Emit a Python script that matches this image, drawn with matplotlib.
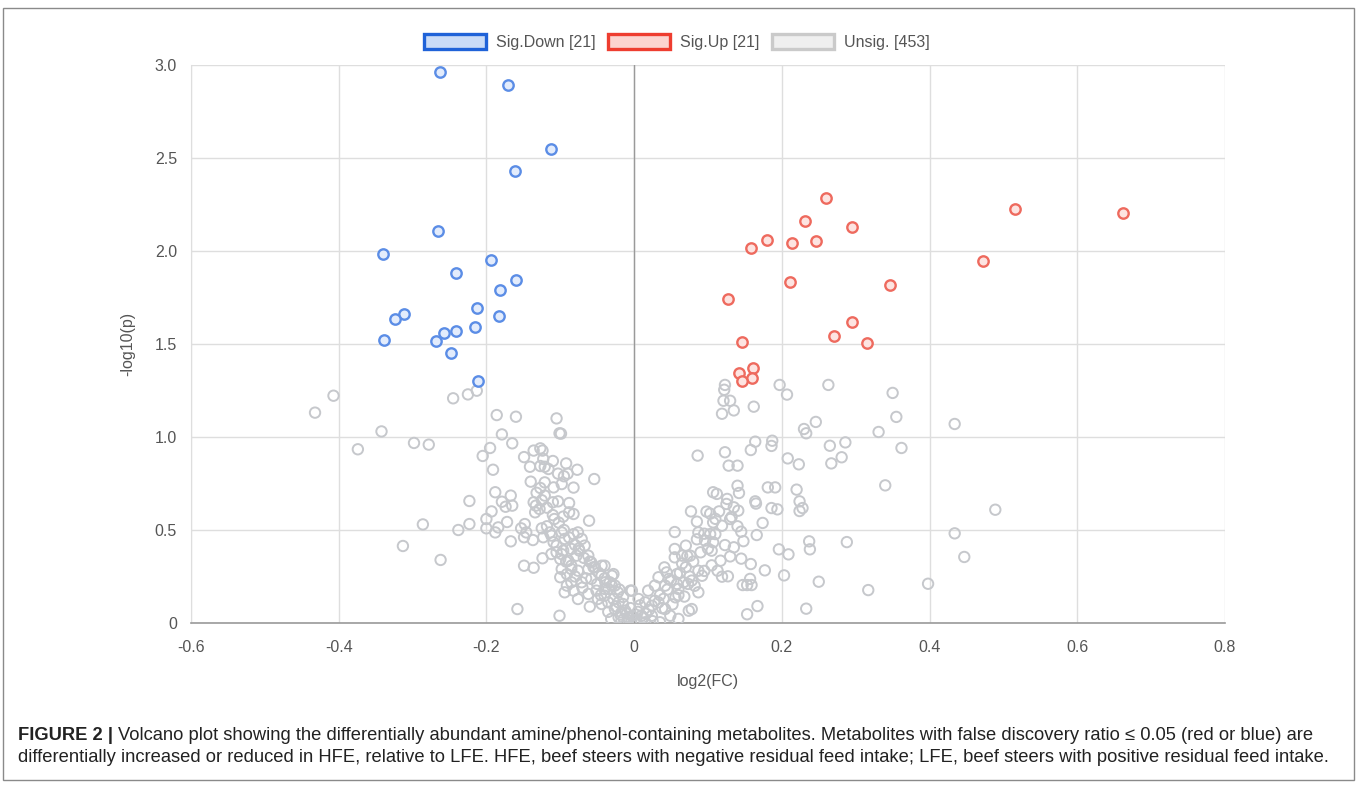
import matplotlib.pyplot as plt
from matplotlib.patches import Patch, Rectangle
import numpy as np

plt.rcParams['font.family'] = ['Liberation Sans', 'DejaVu Sans']

# Sig.Down points (log2 FC, -log10 p)
down_x = [-0.263, -0.171, -0.112, -0.161, -0.265, -0.340, -0.194, -0.241, -0.160, -0.181,
          -0.213, -0.311, -0.324, -0.183, -0.215, -0.241, -0.257, -0.338, -0.268, -0.248,
          -0.211]
down_y = [2.962, 2.892, 2.548, 2.430, 2.108, 1.984, 1.952, 1.882, 1.844, 1.790,
          1.694, 1.661, 1.634, 1.651, 1.591, 1.570, 1.559, 1.522, 1.516, 1.452,
          1.301]

# Sig.Up points
up_x = [0.260, 0.2315, 0.295, 0.158, 0.180, 0.214, 0.246, 0.516, 0.662, 0.4725,
        0.211, 0.347, 0.127, 0.295, 0.271, 0.315, 0.146, 0.161, 0.142, 0.160,
        0.146]
up_y = [2.285, 2.161, 2.129, 2.016, 2.059, 2.043, 2.054, 2.226, 2.204, 1.946,
        1.833, 1.817, 1.742, 1.618, 1.543, 1.505, 1.511, 1.371, 1.344, 1.317,
        1.301]

# Unsig. points
unsig = [
    (-0.432, 1.131), (-0.407, 1.222), (-0.342, 1.030), (-0.374, 0.934), (-0.298, 0.968),
    (-0.278, 0.959), (-0.245, 1.208), (-0.225, 1.229), (-0.213, 1.249), (-0.313, 0.414),
    (-0.286, 0.530), (-0.262, 0.339), (-0.238, 0.500), (-0.223, 0.656), (-0.223, 0.532),
    (-0.186, 1.118), (-0.160, 1.109), (-0.179, 1.014), (-0.165, 0.966), (-0.195, 0.941),
    (-0.205, 0.898), (-0.191, 0.824), (-0.105, 1.100), (-0.101, 1.020), (-0.099, 1.018),
    (-0.149, 0.892), (-0.141, 0.840), (-0.136, 0.927), (-0.127, 0.939), (-0.124, 0.927),
    (-0.123, 0.882), (-0.127, 0.844), (-0.121, 0.840), (-0.110, 0.871), (-0.116, 0.828),
    (-0.092, 0.858), (-0.077, 0.824), (-0.103, 0.803), (-0.095, 0.789), (-0.090, 0.803),
    (-0.054, 0.774), (-0.127, 0.726), (-0.121, 0.756), (-0.109, 0.729), (-0.098, 0.747),
    (-0.082, 0.728), (-0.188, 0.703), (-0.167, 0.685), (-0.179, 0.652), (-0.174, 0.625),
    (-0.165, 0.631), (-0.193, 0.600), (-0.200, 0.559), (-0.200, 0.509), (-0.184, 0.514),
    (-0.188, 0.487), (-0.172, 0.543), (-0.167, 0.439), (-0.136, 0.649), (-0.133, 0.631),
    (-0.128, 0.613), (-0.134, 0.595), (-0.121, 0.685), (-0.110, 0.649), (-0.103, 0.654),
    (-0.088, 0.645), (-0.088, 0.595), (-0.082, 0.586), (-0.096, 0.572), (-0.108, 0.559),
    (-0.061, 0.550), (-0.148, 0.532), (-0.153, 0.509), (-0.146, 0.487), (-0.137, 0.446),
    (-0.149, 0.461), (-0.125, 0.509), (-0.123, 0.461), (-0.114, 0.487), (-0.109, 0.434),
    (-0.098, 0.487), (-0.094, 0.452), (-0.082, 0.478), (-0.076, 0.487), (-0.071, 0.452),
    (-0.067, 0.416), (-0.105, 0.416), (-0.096, 0.389), (-0.085, 0.398), (-0.074, 0.389),
    (-0.124, 0.348), (-0.112, 0.371), (-0.100, 0.344), (-0.089, 0.335), (-0.078, 0.362),
    (-0.062, 0.362), (-0.058, 0.326), (-0.149, 0.308), (-0.136, 0.297), (-0.098, 0.290),
    (-0.091, 0.263), (-0.085, 0.308), (-0.076, 0.281), (-0.062, 0.290), (-0.053, 0.299),
    (-0.040, 0.308), (-0.100, 0.246), (-0.091, 0.201), (-0.085, 0.219), (-0.071, 0.219),
    (-0.058, 0.237), (-0.044, 0.254), (-0.028, 0.263), (-0.094, 0.165), (-0.082, 0.174),
    (-0.076, 0.129), (-0.062, 0.156), (-0.051, 0.174), (-0.040, 0.183), (-0.033, 0.219),
    (-0.026, 0.201), (-0.022, 0.165), (-0.060, 0.088), (-0.158, 0.075), (-0.101, 0.039),
    (-0.049, 0.129), (-0.035, 0.111), (-0.026, 0.075), (-0.017, 0.057), (-0.031, 0.022),
    (-0.008, 0.030), (-0.004, 0.004), (-0.015, 0.102), (-0.005, 0.174), (-0.040, 0.147),
    (-0.044, 0.102),
    (0.123, 1.280), (0.122, 1.254), (0.121, 1.195), (0.130, 1.195), (0.119, 1.125),
    (0.135, 1.143), (0.197, 1.280), (0.207, 1.228), (0.162, 1.163), (0.263, 1.280),
    (0.350, 1.237), (0.355, 1.108), (0.434, 1.070), (0.246, 1.081), (0.230, 1.043),
    (0.233, 1.020), (0.331, 1.027), (0.187, 0.980), (0.186, 0.952), (0.164, 0.975),
    (0.158, 0.930), (0.265, 0.953), (0.286, 0.971), (0.362, 0.941), (0.086, 0.900),
    (0.123, 0.918), (0.128, 0.846), (0.140, 0.846), (0.208, 0.885), (0.223, 0.853),
    (0.267, 0.858), (0.281, 0.891), (0.340, 0.740), (0.140, 0.738), (0.142, 0.699),
    (0.181, 0.729), (0.191, 0.729), (0.220, 0.717), (0.107, 0.703), (0.112, 0.694),
    (0.126, 0.667), (0.164, 0.654), (0.165, 0.642), (0.224, 0.654), (0.228, 0.618),
    (0.224, 0.602), (0.186, 0.618), (0.194, 0.611), (0.135, 0.622), (0.141, 0.604),
    (0.130, 0.559), (0.098, 0.599), (0.103, 0.588), (0.077, 0.600), (0.085, 0.545),
    (0.489, 0.609), (0.107, 0.541), (0.119, 0.523), (0.174, 0.538), (0.145, 0.491),
    (0.166, 0.473), (0.055, 0.489), (0.087, 0.487), (0.103, 0.478), (0.110, 0.478),
    (0.096, 0.443), (0.107, 0.434), (0.123, 0.419), (0.135, 0.407), (0.237, 0.439),
    (0.238, 0.396), (0.288, 0.435), (0.196, 0.396), (0.209, 0.369), (0.434, 0.482),
    (0.447, 0.355), (0.055, 0.398), (0.070, 0.416), (0.076, 0.362), (0.055, 0.353),
    (0.065, 0.362), (0.105, 0.389), (0.117, 0.335), (0.130, 0.358), (0.145, 0.346),
    (0.158, 0.317), (0.113, 0.281), (0.119, 0.249), (0.127, 0.251), (0.177, 0.283),
    (0.203, 0.256), (0.041, 0.299), (0.044, 0.272), (0.033, 0.246), (0.047, 0.237),
    (0.058, 0.263), (0.067, 0.219), (0.078, 0.228), (0.087, 0.281), (0.092, 0.254),
    (0.087, 0.165), (0.073, 0.210), (0.060, 0.183), (0.042, 0.201), (0.028, 0.201),
    (0.019, 0.174), (0.056, 0.138), (0.068, 0.142), (0.250, 0.222), (0.317, 0.177),
    (0.398, 0.211), (0.147, 0.204), (0.153, 0.204), (0.159, 0.204), (0.157, 0.237),
    (0.233, 0.077), (0.167, 0.091), (0.153, 0.047), (0.074, 0.066), (0.078, 0.075),
    (-0.003, 0.174), (0.006, 0.129), (0.015, 0.111), (0.024, 0.093), (0.033, 0.111),
    (0.042, 0.075), (0.049, 0.039), (0.060, 0.022), (0.035, 0.004), (0.010, 0.039),
    (-0.003, 0.039), (-0.014, 0.022), (-0.012, 0.066), (-0.021, 0.111), (-0.028, 0.129),
    (-0.039, 0.219), (-0.044, 0.308), (-0.030, 0.254), (-0.035, 0.183), (0.024, 0.039),
    (0.001, 0.013), (0.015, 0.004), (-0.021, 0.030),
    (-0.010, 0.050), (-0.005, 0.080), (0.005, 0.060), (0.012, 0.030), (0.020, 0.070),
    (0.028, 0.120), (0.035, 0.150), (0.045, 0.180), (0.050, 0.230), (0.062, 0.270),
    (0.070, 0.300), (0.080, 0.330), (0.090, 0.380), (0.100, 0.400), (-0.015, 0.140),
    (-0.020, 0.180), (-0.030, 0.200), (-0.040, 0.240), (-0.048, 0.270), (-0.055, 0.300),
    (-0.060, 0.330), (-0.068, 0.350), (-0.075, 0.400), (-0.080, 0.420), (-0.088, 0.460),
    (-0.095, 0.500), (-0.102, 0.540), (-0.110, 0.580), (-0.118, 0.620), (-0.125, 0.660),
    (-0.132, 0.700), (-0.140, 0.760), (0.003, 0.020), (0.008, 0.095), (-0.008, 0.015),
    (-0.018, 0.045), (0.016, 0.050), (0.025, 0.010), (0.038, 0.080), (0.052, 0.100),
    (0.040, 0.130), (-0.025, 0.090), (-0.035, 0.060), (-0.045, 0.150), (-0.050, 0.210),
    (-0.065, 0.240), (-0.070, 0.190), (-0.080, 0.250), (-0.085, 0.290), (-0.092, 0.330),
    (-0.098, 0.370), (-0.105, 0.380), (-0.112, 0.470), (-0.118, 0.520), (0.058, 0.210),
    (0.065, 0.320), (0.072, 0.360), (0.085, 0.450), (0.095, 0.480), (0.110, 0.560),
    (0.115, 0.600), (0.125, 0.640), (0.132, 0.570), (0.140, 0.520), (0.148, 0.440),
    (0.060, 0.150), (0.075, 0.250), (0.082, 0.200), (0.095, 0.280), (0.105, 0.310),
]
unsig_x = [p[0] for p in unsig]
unsig_y = [p[1] for p in unsig]

legend_labels = ['Sig.Down [21]', 'Sig.Up [21]', 'Unsig. [453]']
x_ticks = [-0.6, -0.4, -0.2, 0, 0.2, 0.4, 0.6, 0.8]
x_ticklabels = ['-0.6', '-0.4', '-0.2', '0', '0.2', '0.4', '0.6', '0.8']
y_ticks = [0, 0.5, 1.0, 1.5, 2.0, 2.5, 3.0]
y_ticklabels = ['0', '0.5', '1.0', '1.5', '2.0', '2.5', '3.0']

caption_bold = 'FIGURE 2 | '
caption_1 = ('Volcano plot showing the differentially abundant amine/phenol-containing metabolites. '
             'Metabolites with false discovery ratio \u2264 0.05 (red or blue) are')
caption_2 = ('differentially increased or reduced in HFE, relative to LFE. HFE, beef steers with '
             'negative residual feed intake; LFE, beef steers with positive residual feed intake.')

fig = plt.figure(figsize=(13.59, 7.89), dpi=100)
ax = fig.add_axes([0.1405, 0.2104, 0.7609, 0.7072])

ax.scatter(unsig_x, unsig_y, s=56, facecolors='none', edgecolors='#c6c8cc', linewidths=1.4, zorder=3)
ax.scatter(up_x, up_y, s=56, facecolors='#fde4e1', edgecolors='#ee6a5e', linewidths=1.7, zorder=4)
ax.scatter(down_x, down_y, s=56, facecolors='#e3ecfc', edgecolors='#5b8de6', linewidths=1.7, zorder=4)

ax.set_xlim(-0.6, 0.8)
ax.set_ylim(0, 3.0)
ax.set_xticks(x_ticks)
ax.set_xticklabels(x_ticklabels)
ax.set_yticks(y_ticks)
ax.set_yticklabels(y_ticklabels)
ax.tick_params(length=0, labelsize=11.5, labelcolor='#555555')
ax.tick_params(axis='x', pad=12)
ax.tick_params(axis='y', pad=10)
ax.grid(True, color='#dedede', linewidth=1.0, zorder=0)
ax.set_axisbelow(True)
ax.axvline(0, color='#9a9a9a', linewidth=1.0, zorder=1)
for side in ['top', 'right']:
    ax.spines[side].set_visible(False)
ax.spines['left'].set_color('#dedede')
ax.spines['bottom'].set_color('#9a9a9a')
ax.spines['bottom'].set_linewidth(1.2)

ax.set_xlabel('log2(FC)', fontsize=11.5, color='#555555', labelpad=14)
ax.set_ylabel('-log10(p)', fontsize=11.5, color='#555555', labelpad=14)

handles = [
    Patch(facecolor='#c9dbf7', edgecolor='#1f62d8', linewidth=2.4),
    Patch(facecolor='#fcd4d0', edgecolor='#ee3d30', linewidth=2.4),
    Patch(facecolor='#efefef', edgecolor='#cacaca', linewidth=2.4),
]
leg = fig.legend(handles, legend_labels, loc='center', bbox_to_anchor=(0.498, 1 - 42 / 789),
                 ncol=3, frameon=False, fontsize=11.5, handlelength=3.9, handleheight=1.1,
                 handletextpad=0.6, columnspacing=0.8)
for t in leg.get_texts():
    t.set_color('#555555')

# outer frame
fig.add_artist(Rectangle((3 / 1359, 9 / 789), 1351 / 1359, 772 / 789, transform=fig.transFigure,
                         fill=False, edgecolor='#8a8a8a', linewidth=1.0))

cap_size = 13.2
y1 = 1 - 735 / 789
y2 = 1 - 757 / 789
tb = fig.text(18 / 1359, y1, caption_bold, fontsize=cap_size, fontweight='bold',
              color='#222222', va='center', ha='left')
fig.canvas.draw()
bb = tb.get_window_extent()
fig.text(bb.x1 / fig.bbox.width, y1, caption_1, fontsize=cap_size,
         color='#222222', va='center', ha='left')
fig.text(18 / 1359, y2, caption_2, fontsize=cap_size,
         color='#222222', va='center', ha='left')

fig.savefig('out.png', dpi=100)
